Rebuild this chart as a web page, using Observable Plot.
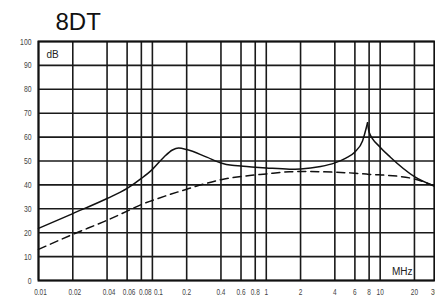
<!DOCTYPE html>
<html>
<head>
<meta charset="utf-8">
<script src="https://cdn.jsdelivr.net/npm/d3@7"></script>
<script src="https://cdn.jsdelivr.net/npm/@observablehq/plot@0.6"></script>
<style>
  body { margin: 0; background: #fff; }
  svg { display: block; }
</style>
</head>
<body>
<div id="chart"></div>
<script>
const title = "8DT";
const yUnit = "dB";
const xUnit = "MHz";

const xTicks = [0.01, 0.02, 0.04, 0.06, 0.08, 0.1, 0.2, 0.4, 0.6, 0.8, 1, 2, 4, 6, 8, 10, 20, 30];
const xTickLabels = ["0.01", "0.02", "0.04", "0.06", "0.08", "0.1", "0.2", "0.4", "0.6", "0.8", "1", "2", "4", "6", "8", "10", "20", "30"];
const yTicks = [0, 10, 20, 30, 40, 50, 60, 70, 80, 90, 100];

// Solid curve
const solidFreq = [0.01, 0.02, 0.04, 0.06, 0.08, 0.1, 0.126, 0.15, 0.17, 0.2, 0.3, 0.4, 0.5, 0.6, 0.8, 1, 1.6, 2, 3, 4, 5, 6, 7, 7.75, 8, 10, 12.3, 20, 30];
const solidDb   = [21.8, 28, 34.3, 38.5, 42.7, 46.5, 51.6, 54.6, 55.4, 54.8, 51.6, 49.2, 48.2, 47.9, 47.4, 47.1, 46.6, 46.7, 47.7, 49.2, 51.2, 53.8, 58.4, 66, 62, 55.8, 51.6, 43.5, 39.5];

// Dashed curve
const dashFreq = [0.01, 0.02, 0.04, 0.06, 0.08, 0.1, 0.2, 0.28, 0.4, 0.6, 1, 1.6, 2, 4, 6, 8, 10, 20, 30];
const dashDb   = [13, 19.3, 25.2, 29, 31.8, 33.5, 38.2, 40.3, 42.2, 43.5, 44.6, 45.5, 45.6, 45.3, 44.9, 44.4, 44.2, 42.5, 39.5];

// split solid curve at its peak so the resonance is a sharp cusp
const peakIdx = solidDb.indexOf(Math.max(...solidDb));
const solidData = [];
solidFreq.forEach((f, i) => {
  if (i <= peakIdx) solidData.push({f, db: solidDb[i], part: "rise"});
  if (i >= peakIdx) solidData.push({f, db: solidDb[i], part: "fall"});
});
const dashData = dashFreq.map((f, i) => ({f, db: dashDb[i]}));
const xLabelData = xTicks.map((v, i) => ({v, label: xTickLabels[i]}));

const labelFont = "'Liberation Sans Narrow', 'Arial Narrow', 'Liberation Sans', Arial, sans-serif";
const xLabelOpts = (filter, dx) => ({x: "v", filter, frameAnchor: "bottom", dx, dy: 8, text: "label",
  lineAnchor: "top", textAnchor: "middle", fontSize: 9, fontFamily: labelFont, fill: "#444"});

const chart = Plot.plot({
  width: 435,
  height: 300,
  marginLeft: 38,
  marginRight: 1,
  marginTop: 41,
  marginBottom: 20,
  style: {background: "#fff", fontFamily: "'Liberation Sans', Arial, sans-serif", color: "#222"},
  x: {type: "log", domain: [0.01, 30], axis: null},
  y: {domain: [0, 100], axis: null},
  marks: [
    Plot.ruleX(xTicks, {stroke: "#1a1a1a", strokeWidth: 1.6}),
    Plot.ruleY(yTicks, {stroke: "#1a1a1a", strokeWidth: 1.6}),
    Plot.frame({stroke: "#111", strokeWidth: 2}),
    Plot.text(xLabelData, xLabelOpts(d => d.v < 0.08, 2)),
    Plot.text(xLabelData, xLabelOpts(d => d.v === 0.08, 4)),
    Plot.text(xLabelData, xLabelOpts(d => d.v === 0.1, 6)),
    Plot.text(xLabelData, xLabelOpts(d => d.v > 0.1, 0)),
    Plot.text(yTicks, {y: d => d, frameAnchor: "left", dx: -7, text: d => String(d), textAnchor: "end",
      fontSize: 9.5, fontFamily: labelFont, fill: "#444"}),
    Plot.line(dashData, {x: "f", y: "db", stroke: "#111", strokeWidth: 1.5, strokeDasharray: "8,5", curve: "monotone-x"}),
    Plot.line(solidData, {x: "f", y: "db", z: "part", stroke: "#111", strokeWidth: 1.5, curve: "monotone-x"}),
    Plot.text([title], {frameAnchor: "top-left", dx: 17, dy: -12, text: d => d, fontSize: 24, textAnchor: "start", lineAnchor: "bottom", fill: "#111"}),
    Plot.text([yUnit], {frameAnchor: "top-left", dx: 8, dy: 9, text: d => d, fontSize: 10, textAnchor: "start", lineAnchor: "top", fill: "#222"}),
    Plot.text([xUnit], {frameAnchor: "bottom-right", dx: -22, dy: -6, text: d => d, fontSize: 10, textAnchor: "end", lineAnchor: "bottom", fill: "#222"})
  ]
});
document.getElementById("chart").appendChild(chart);

// condense the tick labels (the reference uses a narrow face)
d3.select(chart).selectAll('g[font-family*="Narrow"] text').each(function () {
  const w = this.getComputedTextLength();
  this.setAttribute("textLength", (w * 0.72).toFixed(2));
  this.setAttribute("lengthAdjust", "spacingAndGlyphs");
});
</script>
</body>
</html>
